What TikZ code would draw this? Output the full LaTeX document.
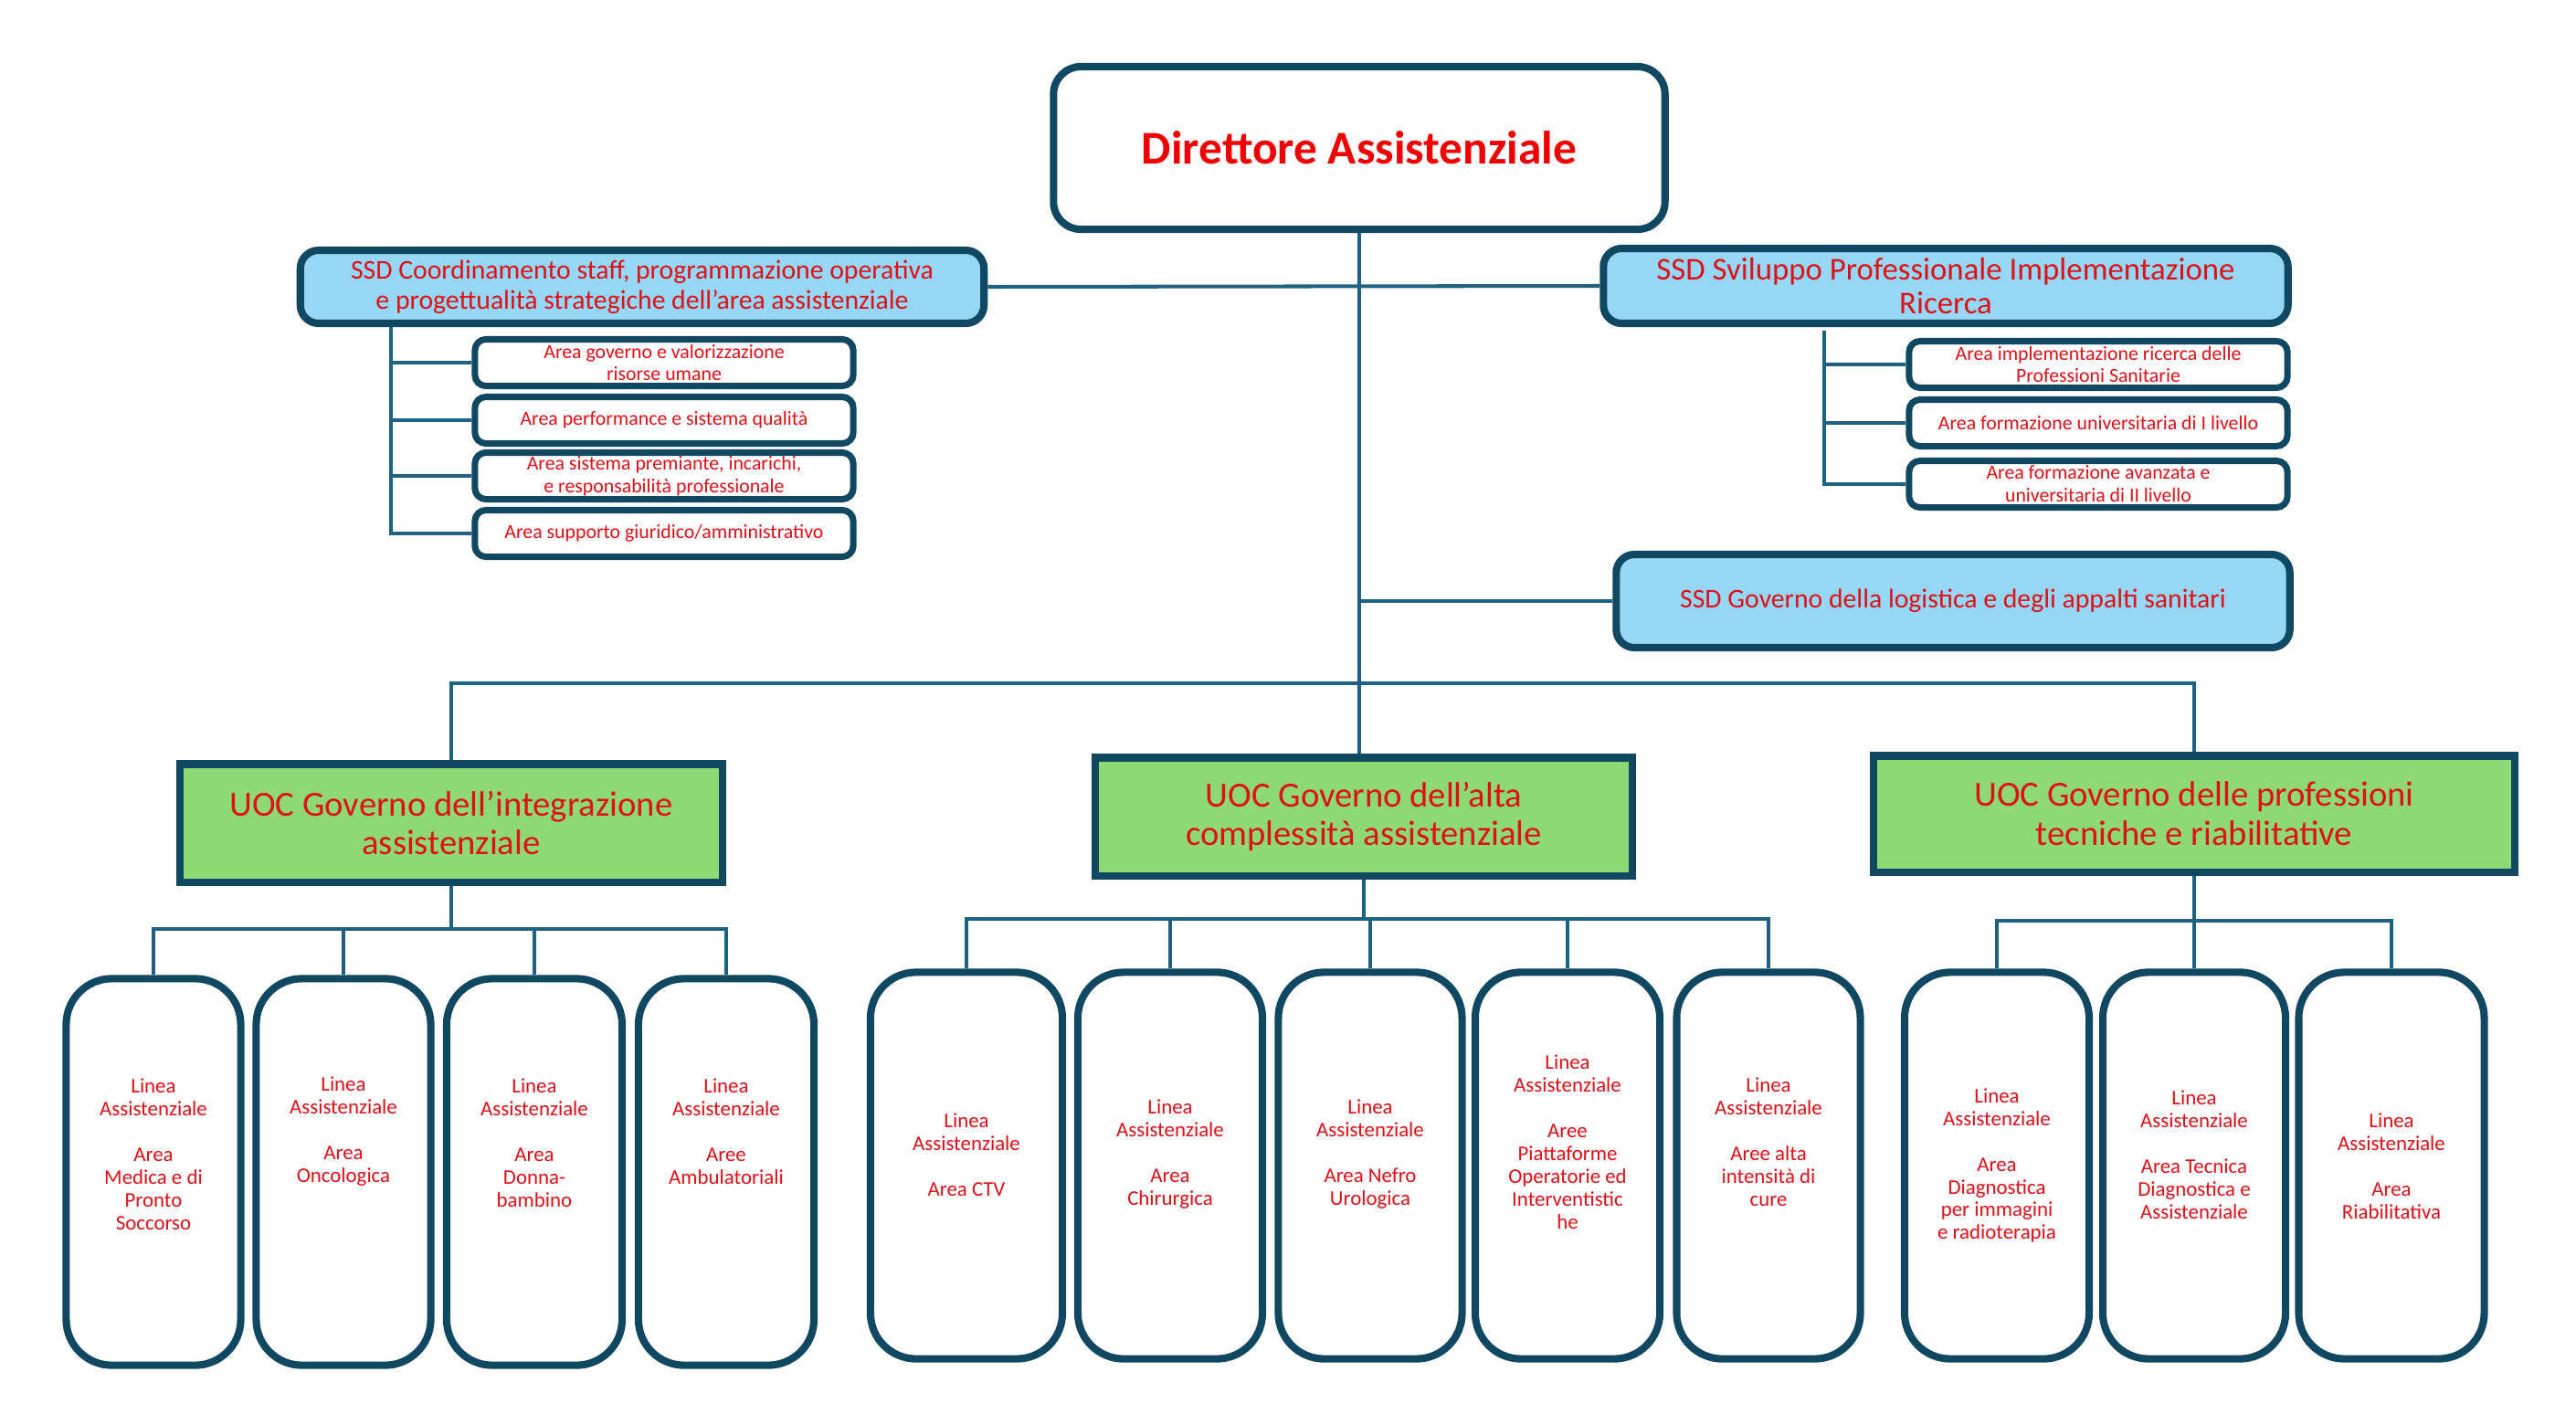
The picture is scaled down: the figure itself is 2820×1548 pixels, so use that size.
\documentclass[tikz,border=0pt]{standalone}
\usepackage{fontspec}
\setmainfont{Carlito}
\usetikzlibrary{positioning}
\definecolor{BoxTeal}{RGB}{16,72,97}
\definecolor{LinkTeal}{RGB}{30,98,130}
\definecolor{SSDBlue}{RGB}{150,215,245}
\definecolor{UOCGreen}{RGB}{142,217,115}
\definecolor{TitleRed}{RGB}{240,0,0}
\definecolor{TextRed}{RGB}{222,16,24}

\begin{document}
\begin{tikzpicture}[
    x=0.01cm, y=-0.01cm,
    director/.style={rectangle, draw=BoxTeal, fill=white, line width=2.3pt, rounded corners=0.3cm, minimum width=6.69cm, minimum height=1.78cm, inner sep=0pt, text=TitleRed, font=\fontsize{14.6}{17}\selectfont\bfseries},
    ssdbox/.style={rectangle, draw=BoxTeal, fill=SSDBlue, line width=2.3pt, rounded corners=0.2cm, inner sep=0pt, align=center, text=TextRed, font=\fontsize{8.45}{9.4}\selectfont},
    areabox/.style={rectangle, draw=BoxTeal, fill=white, line width=2pt, rounded corners=0.12cm, minimum width=4.14cm, minimum height=0.51cm, inner sep=0pt, align=center, text=TextRed, font=\fontsize{6.2}{7.1}\selectfont},
    uocbox/.style={rectangle, draw=BoxTeal, fill=UOCGreen, line width=2.3pt, minimum height=1.29cm, inner sep=0pt, align=center, text=TextRed, font=\fontsize{11}{12.2}\selectfont},
    lineabox/.style={rectangle, draw=BoxTeal, fill=white, line width=2.3pt, rounded corners=0.5cm, minimum width=#1, minimum height=4.23cm, inner sep=0pt},
    lineabox/.default=2.01cm,
    lineatxt/.style={align=center, inner sep=0pt, text=TextRed, font=\fontsize{6.5}{7.1}\selectfont},
    conn/.style={draw=LinkTeal, line width=1.15pt}
]
\useasboundingbox (0,0) rectangle (2820,1548);

% Direzione
\node[director] (dir) at (1488,162) {Direttore Assistenziale};

% Staff
\node[ssdbox, minimum width=7.48cm, minimum height=0.80cm] (ssdL) at (703,314) {SSD Coordinamento staff, programmazione operativa\\e progettualità strategiche dell’area assistenziale};
\node[ssdbox, minimum width=7.49cm, minimum height=0.82cm, font=\fontsize{9.9}{10.6}\selectfont] (ssdR) at (2130,313) {SSD Sviluppo Professionale Implementazione\\Ricerca};
\node[ssdbox, minimum width=7.37cm, minimum height=1.02cm] (ssdG) at (2138,658) {SSD Governo della logistica e degli appalti sanitari};

% Aree staff
\node[areabox] (L1) at (727,397) {Area governo e valorizzazione\\risorse umane};
\node[areabox] (L2) at (727,460) {Area performance e sistema qualità};
\node[areabox] (L3) at (727,521) {Area sistema premiante, incarichi,\\e responsabilità professionale};
\node[areabox] (L4) at (727,584) {Area supporto giuridico/amministrativo};

\node[areabox] (R1) at (2297,399) {Area implementazione ricerca delle\\Professioni Sanitarie};
\node[areabox] (R2) at (2297,463) {Area formazione universitaria di I livello};
\node[areabox] (R3) at (2297,530) {Area formazione avanzata e\\universitaria di II livello};

% UOC
\node[uocbox, minimum width=5.94cm] (uocA) at (494,901) {UOC Governo dell’integrazione\\assistenziale};
\node[uocbox, minimum width=5.88cm] (uocB) at (1493,894) {UOC Governo dell’alta\\complessità assistenziale};
\node[uocbox, minimum width=7.01cm, minimum height=1.27cm] (uocC) at (2402,891) {UOC Governo delle professioni\\tecniche e riabilitative};

% Linee assistenziali
\node[lineabox=1.91cm] (A1) at (168,1283) {};
\node[lineabox=1.91cm] (A2) at (376,1283) {};
\node[lineabox=1.92cm] (A3) at (585,1283) {};
\node[lineabox=1.92cm] (A4) at (795,1283) {};

\node[lineabox=2.10cm] (B1) at (1058,1276) {};
\node[lineabox=2.02cm] (B2) at (1281,1276) {};
\node[lineabox=2.01cm] (B3) at (1500,1276) {};
\node[lineabox=2.02cm] (B4) at (1716,1276) {};
\node[lineabox=2.01cm] (B5) at (1936,1276) {};

\node[lineabox=2.02cm] (C1) at (2186,1276) {};
\node[lineabox=2.00cm] (C2) at (2402,1276) {};
\node[lineabox=2.03cm] (C3) at (2618,1276) {};

\node[lineatxt] (tA1) at (168,1264) {Linea\\Assistenziale\\[7.1pt]Area\\Medica e di\\Pronto\\Soccorso};
\node[lineatxt] (tA2) at (376,1239) {Linea\\Assistenziale\\[7.1pt]Area\\Oncologica};
\node[lineatxt] (tA3) at (585,1251) {Linea\\Assistenziale\\[7.1pt]Area\\Donna-\\bambino};
\node[lineatxt] (tA4) at (795,1239) {Linea\\Assistenziale\\[7.1pt]Aree\\Ambulatoriali};

\node[lineatxt] (tB1) at (1058,1264) {Linea\\Assistenziale\\[7.1pt]Area CTV};
\node[lineatxt] (tB2) at (1281,1264) {Linea\\Assistenziale\\[7.1pt]Area\\Chirurgica};
\node[lineatxt] (tB3) at (1500,1264) {Linea\\Assistenziale\\[7.1pt]Area Nefro\\Urologica};
\node[lineatxt] (tB4) at (1716,1250) {Linea\\Assistenziale\\[7.1pt]Aree\\Piattaforme\\Operatorie ed\\Interventistic\\he};
\node[lineatxt] (tB5) at (1936,1250) {Linea\\Assistenziale\\[7.1pt]Aree alta\\intensità di\\cure};

\node[lineatxt] (tC1) at (2186,1276) {Linea\\Assistenziale\\[7.1pt]Area\\Diagnostica\\per immagini\\e radioterapia};
\node[lineatxt] (tC2) at (2402,1264) {Linea\\Assistenziale\\[7.1pt]Area Tecnica\\Diagnostica e\\Assistenziale};
\node[lineatxt] (tC3) at (2618,1277) {Linea\\Assistenziale\\[7.1pt]Area\\Riabilitativa};

% Collegamenti
\coordinate (busMain) at (1488,748);
\coordinate (stemL) at (428,358);
\coordinate (stemR) at (1997,362);

\draw[conn] (dir.south) -- (dir.south |- uocB.north);
\draw[conn] (ssdL.east) -- (ssdR.west);
\draw[conn] (dir.south |- ssdG.west) -- (ssdG.west);
\draw[conn] (busMain) -| (uocA.north);
\draw[conn] (busMain) -| (uocC.north);

\foreach \b in {L1,L2,L3,L4} \draw[conn] (stemL) |- (\b.west);
\foreach \b in {R1,R2,R3} \draw[conn] (stemR) |- (\b.west);

\draw[conn] (uocA.south) -- ++(0,47) coordinate (busA);
\draw[conn] (uocB.south) -- ++(0,43) coordinate (busB);
\draw[conn] (uocC.south) -- ++(0,49) coordinate (busC);
\foreach \b in {A1,A2,A3,A4} \draw[conn] (busA) -| (\b.north);
\foreach \b in {B1,B2,B3,B4,B5} \draw[conn] (busB) -| (\b.north);
\foreach \b in {C1,C2,C3} \draw[conn] (busC) -| (\b.north);

\end{tikzpicture}
\end{document}
